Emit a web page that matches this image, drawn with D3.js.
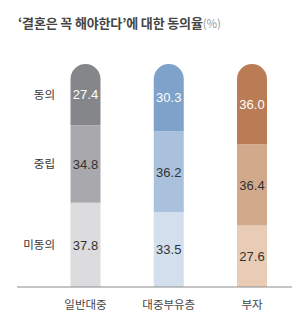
<!DOCTYPE html>
<html>
<head>
  <meta charset="utf-8">
  <script src="https://d3js.org/d3.v7.min.js"></script>
  <style>
    body { margin: 0; background: #fff; }
    svg text { font-family: "Noto Sans CJK KR", "Noto Sans", sans-serif; }
    .val { font-family: "Liberation Sans", Arial, sans-serif; font-size: 13px; }
  </style>
</head>
<body>
  <svg id="chart" width="308" height="324"></svg>
  <script>
    const groups = ["일반대중", "대중부유층", "부자"];
    const levels = ["미동의", "중립", "동의"]; // bottom to top
    const agree    = [27.4, 30.3, 36.0];
    const neutral  = [34.8, 36.2, 36.4];
    const disagree = [37.8, 33.5, 27.6];

    const colors = {
      "일반대중":   ["#dcdcde", "#a9a9ad", "#85868a"],
      "대중부유층": ["#d3dfed", "#a9c1dc", "#7ea2c9"],
      "부자":       ["#e8ccb6", "#d1a98b", "#ba7c55"]
    };

    const rows = groups.map((g, i) => ({
      group: g, "미동의": disagree[i], "중립": neutral[i], "동의": agree[i]
    }));

    const svg = d3.select("#chart");
    const barW = 30;

    const x = d3.scalePoint().domain(groups).range([85.5, 252]);
    const y = d3.scaleLinear().domain([0, 100]).range([287, 64]);

    const series = d3.stack().keys(levels)(rows);

    // title
    const title = svg.append("text")
      .attr("x", 18).attr("y", 28)
      .attr("fill", "#454545")
      .style("font-size", "13px")
      .style("font-weight", "bold")
      .style("letter-spacing", "-0.15px");
    title.append("tspan").text("‘결혼은 꼭 해야한다’에 대한 동의율");
    title.append("tspan")
      .attr("fill", "#9a9a9a")
      .style("font-weight", "normal")
      .style("font-size", "11.5px")
      .text("(%)");

    const g = svg.append("g");

    series.forEach((s, li) => {
      s.forEach((d, gi) => {
        const cx = x(d.data.group), x0 = cx - barW / 2, x1 = cx + barW / 2;
        const yt = y(d[1]), yb = y(d[0]);
        const fill = colors[d.data.group][li];
        if (li === levels.length - 1) {
          const r = barW / 2;
          g.append("path")
            .attr("d", `M${x0},${yb}L${x0},${yt + r}A${r},${r} 0 0 1 ${x1},${yt + r}L${x1},${yb}Z`)
            .attr("fill", fill);
        } else {
          g.append("rect")
            .attr("x", x0).attr("y", yt)
            .attr("width", barW).attr("height", yb - yt)
            .attr("fill", fill);
        }
        g.append("text")
          .attr("class", "val")
          .attr("x", cx).attr("y", (yt + yb) / 2)
          .attr("dy", "0.36em")
          .attr("text-anchor", "middle")
          .attr("fill", li === levels.length - 1 ? "#fff" : "#333")
          .text(d.data[levels[li]].toFixed(1));
      });
    });

    // row labels next to the first bar
    series.forEach((s, li) => {
      const d = s[0];
      svg.append("text")
        .attr("x", 55).attr("y", (y(d[0]) + y(d[1])) / 2)
        .attr("dy", "0.36em")
        .attr("text-anchor", "end")
        .attr("fill", "#333")
        .style("font-size", "11.5px")
        .text(levels[li]);
    });

    // baseline
    svg.append("line")
      .attr("x1", 17).attr("x2", 292)
      .attr("y1", y(0)).attr("y2", y(0))
      .attr("stroke", "#8c8c8c").attr("stroke-width", 1.2);

    svg.append("g").selectAll("text")
      .data(groups)
      .join("text")
      .attr("x", d => x(d)).attr("y", 305)
      .attr("dy", "0.36em")
      .attr("text-anchor", "middle")
      .attr("fill", "#444")
      .style("font-size", "11.5px")
      .text(d => d);
  </script>
</body>
</html>
